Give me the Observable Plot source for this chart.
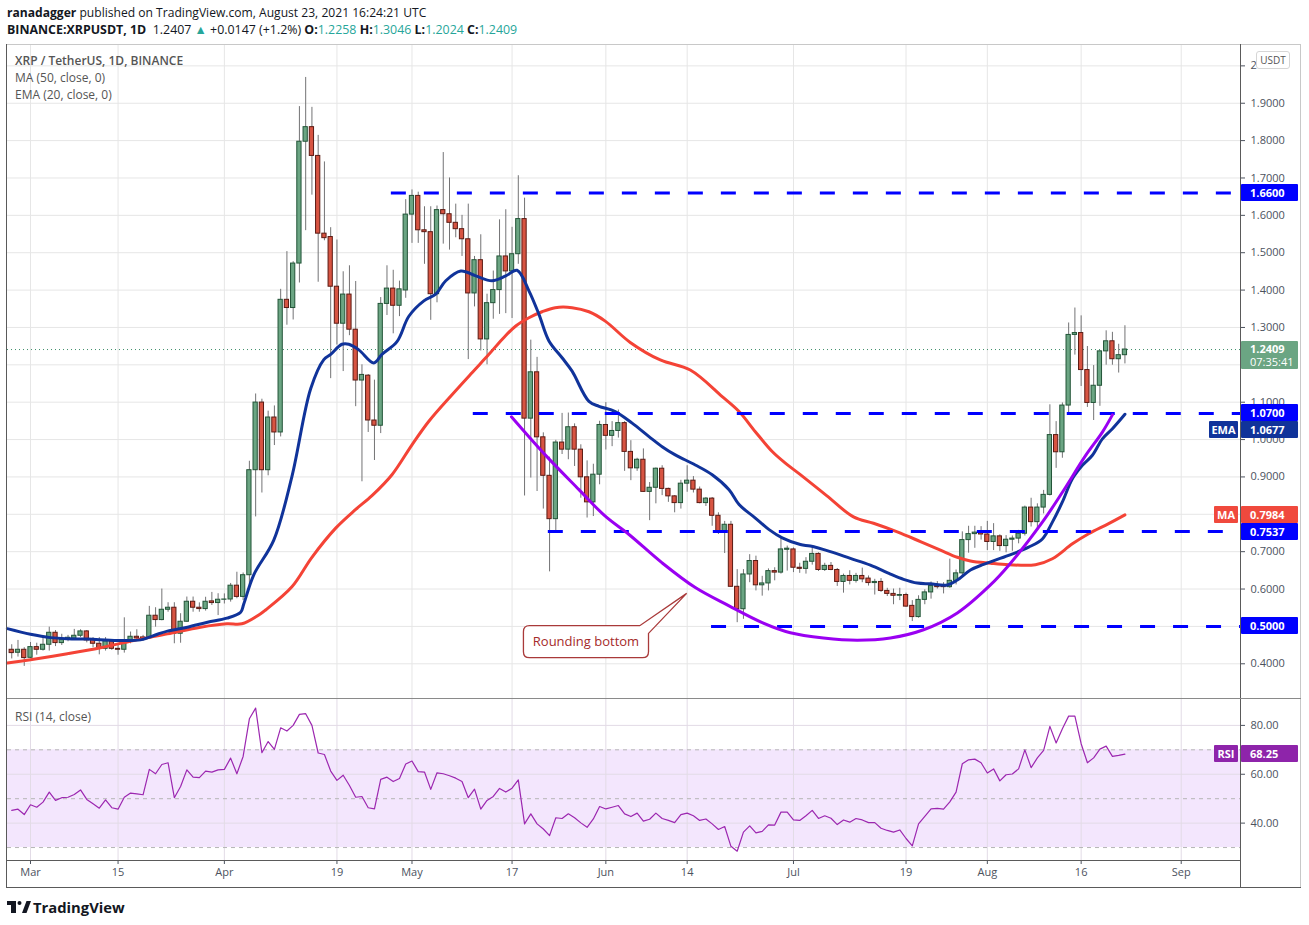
<!DOCTYPE html>
<html><head><meta charset="utf-8">
<script src="https://cdn.jsdelivr.net/npm/d3@7"></script>
<script src="https://cdn.jsdelivr.net/npm/@observablehq/plot@0.6"></script>
<style>
html,body{margin:0;padding:0;background:#fff;}
#root{position:relative;width:1309px;height:925px;overflow:hidden;font-family:"Open Sans",Roboto,sans-serif;color:#131722;}
.abs{position:absolute;white-space:nowrap;}
.teal{color:#26a69a;}
.leg{position:absolute;left:15px;font-size:12px;color:#555;white-space:nowrap;}
.lbl{position:absolute;left:1241px;width:57px;height:17px;line-height:17px;color:#fff;font-weight:700;font-size:11px;padding-left:9px;box-sizing:border-box;border-radius:1px;}
.tag{position:absolute;height:17px;line-height:17px;color:#fff;font-weight:700;font-size:11px;text-align:center;box-sizing:border-box;border-radius:1px;}
.line{position:absolute;background:#5a5a5a;}
</style></head>
<body><div id="root"></div>
<script>
// ---------- data ----------
const firstDay = "2021-02-26";
const open = [.4375,.4295,.4375,
.416,.4446,.4375,.4509,.483,.4554,.4643,.467,.475,.4866,.4643,.4536,.440,.460,.440,.4375,.4616,.4723,.4705,.4679,.5286,.517,.5446,.550,.4804,.5125,.566,.550,.5464,.567,.5625,
.5714,.572,.609,.579,.637,.918,1.099,.918,1.059,1.019,1.374,1.352,1.471,1.797,1.836,1.759,1.551,1.542,1.409,1.310,1.388,1.294,1.158,1.171,1.051,1.037,1.363,1.404,1.358,1.399,
1.602,1.652,1.560,1.555,1.389,1.614,1.603,1.58,1.563,1.536,1.391,1.48,1.268,1.365,1.40,1.49,1.45,1.496,1.59,1.056,1.18,1.006,.903,.787,.992,.973,1.033,.973,.899,.832,.906,
1.039,1.01,1.023,1.044,.967,.923,.946,.86,.871,.922,.868,.848,.83,.882,.89,.866,.83,.842,.796,.755,.772,.606,.546,.639,.675,.61,.615,.648,.644,.705,
.706,.657,.654,.673,.694,.651,.662,.651,.619,.635,.622,.635,.628,.616,.619,.595,.587,.582,.584,.555,.525,.571,.591,.608,.608,.605,.622,.642,.731,.747,.752,
.746,.726,.741,.715,.732,.735,.748,.818,.779,.818,.852,1.012,.966,1.091,1.28,1.285,1.186,1.098,1.144,1.236,1.263,1.215,1.2258];
const high = [.451,.4625,.443,
.457,.455,.470,.498,.489,.479,.476,.492,.491,.489,.470,.470,.470,.464,.449,.523,.485,.491,.476,.5536,.550,.600,.5634,.5634,.534,.5786,.5786,.563,.578,.591,.5875,
.587,.615,.645,.643,.942,1.122,1.108,1.076,1.09,1.402,1.503,1.476,1.891,1.969,1.889,1.814,1.743,1.567,1.534,1.449,1.465,1.423,1.20,1.174,1.159,1.38,1.465,1.453,1.424,1.642,
1.668,1.662,1.623,1.623,1.625,1.768,1.70,1.63,1.60,1.63,1.49,1.548,1.389,1.451,1.588,1.615,1.568,1.706,1.646,1.266,1.22,1.018,.953,.998,1.07,1.071,1.042,.986,.943,.934,1.049,
1.099,1.048,1.079,1.048,.997,.95,.975,.885,.924,.93,.87,.85,.891,.93,.901,.873,.845,.845,.804,.781,.781,.652,.652,.692,.688,.634,.654,.657,.737,.715,
.71,.669,.684,.709,.697,.669,.671,.655,.64,.649,.642,.656,.635,.626,.628,.602,.60,.602,.589,.569,.582,.598,.619,.62,.617,.68,.651,.753,.768,.768,.767,
.781,.775,.745,.743,.742,.757,.822,.843,.828,.864,1.093,1.048,1.098,1.312,1.352,1.331,1.249,1.198,1.238,1.291,1.287,1.255,1.3046];
const low = [.413,.418,.393,
.414,.423,.434,.434,.446,.449,.459,.4625,.470,.456,.443,.424,.434,.436,.423,.4286,.4536,.464,.460,.466,.498,.515,.538,.4536,.455,.511,.538,.538,.541,.556,.529,
.560,.565,.574,.569,.606,.793,.857,.903,.984,1.007,1.306,1.32,1.419,1.559,1.654,1.421,1.532,1.163,1.253,1.182,1.278,1.088,.887,1.019,.944,1.016,1.332,1.283,1.329,1.378,
1.525,1.525,1.469,1.319,1.366,1.523,1.507,1.54,1.49,1.214,1.355,1.237,1.20,1.322,1.335,1.337,1.324,1.469,.849,.897,.861,.814,.646,.752,.96,.946,.928,.843,.79,.794,.879,
.972,.981,1.004,.915,.89,.915,.859,.783,.828,.85,.832,.804,.814,.859,.857,.828,.821,.768,.746,.695,.604,.51,.519,.617,.595,.581,.595,.622,.64,.648,
.644,.642,.64,.664,.647,.647,.649,.607,.589,.611,.616,.617,.608,.584,.591,.58,.558,.569,.551,.513,.522,.558,.573,.60,.587,.602,.611,.633,.696,.709,.731,
.703,.703,.701,.697,.701,.721,.742,.766,.761,.801,.849,.923,.95,1.071,1.226,1.142,1.086,1.051,1.089,1.199,1.199,1.178,1.2024];
const close = [.4286,.4375,.4152,
.4446,.4375,.4509,.483,.4554,.4643,.4696,.475,.4866,.4625,.4536,.440,.460,.440,.4375,.4616,.4723,.4679,.4643,.5286,.517,.5446,.550,.4804,.5125,.566,.550,.5464,.566,.5625,.5714,
.572,.609,.579,.637,.918,1.099,.918,1.059,1.019,1.374,1.352,1.471,1.797,1.836,1.759,1.551,1.539,1.409,1.310,1.388,1.294,1.158,1.173,1.051,1.037,1.363,1.404,1.358,1.402,1.602,
1.652,1.560,1.555,1.389,1.614,1.603,1.58,1.563,1.536,1.391,1.48,1.268,1.365,1.40,1.49,1.45,1.496,1.59,1.056,1.18,1.006,.903,.787,.992,.973,1.033,.973,.899,.832,.906,1.039,
1.01,1.023,1.044,.967,.923,.946,.86,.871,.922,.868,.848,.83,.882,.89,.866,.83,.842,.796,.755,.772,.606,.546,.639,.675,.61,.615,.648,.644,.706,.708,
.657,.654,.673,.694,.651,.662,.651,.619,.635,.622,.635,.626,.616,.619,.595,.587,.582,.584,.553,.525,.571,.591,.608,.605,.605,.622,.642,.731,.747,.751,.746,
.726,.741,.715,.732,.735,.748,.818,.779,.818,.852,1.012,.966,1.091,1.28,1.285,1.186,1.098,1.144,1.236,1.263,1.215,1.2258,1.2409];
const rsi = [45.2,45.7,43.5,
47.5,46.5,48.6,52.7,49.3,50.4,50.6,51.7,53.6,49.7,47.9,46.1,49.5,46.3,45.7,50.6,52.3,52.0,51.6,62.0,60.2,64.0,64.7,50.4,55.0,61.8,58.8,58.6,61.3,60.9,61.8,
62.0,66.6,60.2,67.3,82.7,87.1,68.8,73.4,70.2,79.0,77.7,80.0,84.5,84.8,80.0,68.7,68.1,61.3,57.5,59.6,55.4,50.6,50.9,46.3,45.8,57.9,58.8,57.0,58.3,64.2,
65.4,61.1,60.9,53.8,60.6,60.2,59.4,58.4,57.0,50.4,53.9,45.7,49.3,50.9,54.2,52.7,54.3,57.7,39.7,43.8,39.7,37.6,34.9,42.2,41.9,43.8,42.2,40.1,38.3,41.7,46.8,
45.8,46.5,47.2,43.8,42.7,44.1,40.8,41.6,44.1,41.9,41.1,40.2,43.5,44.1,43.0,41.1,41.7,39.7,37.4,38.6,30.5,28.5,36.3,38.9,36.0,36.6,39.3,39.2,44.5,44.5,
41.3,41.1,43.0,45.2,41.9,43.0,42.0,39.4,41.3,40.4,41.9,41.3,40.2,40.2,37.9,37.0,36.3,37.2,33.7,30.7,39.7,42.8,45.8,46.0,45.7,48.7,52.7,64.3,65.9,66.2,64.7,
60.5,62.2,57.3,59.8,60.1,62.2,70.0,62.7,66.7,69.8,79.6,72.8,78.6,83.8,83.8,72.5,64.7,66.7,70.3,71.5,67.3,67.7,68.25];

// indicator lines: day offsets from Mar 1 and values
const emaDay = [-3.7,0,3.2,5.9,9.1,13.9,17.6,20.3,21.9,25.1,28.3,31.4,33.6,34.1,35.7,38.9,41.8,44.8,46.9,48,49.8,50.9,52.5,54.9,56.2,58.6,60.5,62.9,64.8,66.4,68.8,71.2,73.8,76,77.8,79.7,81.3,82.9,85,86.6,89.3,90.9,93.5,96.2,98.9,101,103.1,106.3,109,111.7,113.3,115.9,118.1,120.2,123.1,124.7,127.9,131.1,134.3,137.5,139.6,141.8,143.9,146.6,148.2,150.3,152.4,156.4,159.6,161.8,163.4,165,166.6,168.2,169.8,171.4,173,175];
const emaVal = [.494,.479,.470,.467,.466,.4625,.464,.479,.4875,.498,.511,.522,.538,.56,.638,.731,.901,1.136,1.214,1.228,1.255,1.255,1.24,1.205,1.228,1.262,1.33,1.371,1.389,1.425,1.451,1.438,1.425,1.438,1.453,1.398,1.335,1.264,1.219,1.183,1.102,1.089,1.075,1.044,1.008,.981,.959,.932,.906,.866,.826,.79,.759,.737,.719,.715,.70,.682,.664,.64,.626,.616,.614,.611,.624,.651,.666,.69,.712,.734,.779,.833,.895,.931,.958,1.002,1.029,1.0677];
const maDay = [-3.7,0,5.9,11.2,16.5,21.9,27.2,31.4,33.8,36.8,37.6,41.8,45,48.8,52,54.6,57.8,61,63.7,67.4,70.6,73.3,75.4,77.6,79.7,81.8,83.9,86.6,89.3,91.9,95.9,100.7,105.5,110.6,113.3,115.9,118.6,120.7,123.1,127.3,131.6,134.8,138.6,142.3,145.5,148.2,150.3,153.5,156.4,160.7,163.4,166.6,169.2,172.4,175];
const maVal = [.402,.411,.427,.443,.4625,.48,.498,.507,.507,.534,.544,.606,.685,.763,.813,.85,.906,.986,1.049,1.12,1.179,1.228,1.268,1.304,1.326,1.342,1.353,1.353,1.342,1.317,1.26,1.213,1.186,1.115,1.075,1.021,.968,.937,.906,.85,.793,.776,.753,.727,.704,.685,.675,.669,.665,.665,.681,.721,.748,.775,.7984];
const arcDay = [76.9,82.3,87.7,91.9,95.7,101,106.3,111.7,117,121.5,126.8,132.2,137.5,142.8,148.2,153.5,156.4,161.8,165,168.7,171.4,173];
const arcVal = [1.061,.959,.866,.795,.746,.67,.604,.555,.51,.483,.469,.463,.469,.491,.536,.611,.663,.779,.859,.957,1.02,1.066];

// horizontal levels drawn on the chart
const levelValues = [1.66, 1.07, 0.7537, 0.5];
const levelStartDay = [57.7, 70.8, 82.8, 108.9];

// axis ticks
const tickDates = ["2021-03-01","2021-03-15","2021-04-01","2021-04-19","2021-05-01","2021-05-17","2021-06-01","2021-06-14","2021-07-01","2021-07-19","2021-08-01","2021-08-16","2021-09-01"];
const tickLabels = ["Mar","15","Apr","19","May","17","Jun","14","Jul","19","Aug","16","Sep"];
const priceTicks = [0.4,0.5,0.6,0.7,0.8,0.9,1.0,1.1,1.2,1.3,1.4,1.5,1.6,1.7,1.8,1.9,2.0];
const hiddenPriceTicks = [1.2]; // covered by the last-price label in the reference
const rsiTicks = [40,60,80];
const rsiDashed = [30,50,70];

// right-axis value labels
const axisLabelValues = [1.66, 1.07, 0.7537, 0.5];
const emaLast = 1.0677, maLast = 0.7984, lastPrice = 1.2409, lastRsi = 68.25;

// callout annotation (data coords: day offset from Mar 1, price)
const callout = {text:"Rounding bottom", day1:78.9, day2:98.9, top:0.5006, bottom:0.415, tipDay:105.0, tipPrice:0.587, baseDay:97.5, sidePrice:0.48};

// ---------- build ----------
const DAY = 864e5;
const MAR1 = Date.UTC(2021,2,1);
const dayDate = d => new Date(MAR1 + d*DAY);
const start = Date.parse(firstDay);
const candles = open.map((o,i)=>({date:new Date(start+i*DAY), open:o, high:high[i], low:low[i], close:close[i], rsi:rsi[i]}));
const up = candles.filter(c=>c.close>=c.open), down = candles.filter(c=>c.close<c.open);
const ema = emaDay.map((d,i)=>({date:dayDate(d), v:emaVal[i]}));
const ma = maDay.map((d,i)=>({date:dayDate(d), v:maVal[i]}));
const arc = arcDay.map((d,i)=>({date:dayDate(d), v:arcVal[i]}));
const levels = levelValues.map((v,i)=>({v, s:dayDate(levelStartDay[i])}));
const ticks = tickDates.map(s=>new Date(s));
const labelMap = new Map(ticks.map((t,i)=>[+t, tickLabels[i]]));

const W = 1309, ML = 7, MR = 69;
const xDomain = [dayDate(-3.678), dayDate(193.48)];
const yDomain = [0.3071, 2.0545];
const rDomain = [24.7, 90.6];
const half = 0.34*DAY;
const root = document.getElementById("root");
const style = {fontFamily:'"Open Sans", sans-serif', fontSize:"11px", color:"#4c525e", background:"transparent", overflow:"visible"};
const priceFmt = d => hiddenPriceTicks.some(h=>Math.abs(h-d)<1e-9) ? "" : (d===2 ? "2" : d.toFixed(4));

const main = Plot.plot({
  width: W, height: 653, marginLeft: ML, marginRight: MR, marginTop: 0, marginBottom: 0,
  style,
  x: {type:"utc", domain: xDomain, axis: null},
  y: {domain: yDomain, axis: "right", ticks: priceTicks, tickFormat: priceFmt, tickSize: 4, tickPadding: 6, label: null},
  marks: [
    Plot.ruleY(priceTicks, {stroke:"#e6e6e6"}),
    Plot.ruleX(ticks, {stroke:"#e6e6e6"}),
    Plot.ruleY([lastPrice], {stroke:"#3f8f6b", strokeDasharray:"1,3", strokeWidth:1}),
    Plot.ruleX(candles, {x:"date", y1:"low", y2:"high", stroke:"#737375", strokeWidth:1}),
    Plot.rect(up, {x1:d=>new Date(+d.date-half), x2:d=>new Date(+d.date+half), y1:"open", y2:"close", fill:"#6ba583", stroke:"#225437", strokeWidth:1}),
    Plot.rect(down, {x1:d=>new Date(+d.date-half), x2:d=>new Date(+d.date+half), y1:"open", y2:"close", fill:"#d75442", stroke:"#5b1a13", strokeWidth:1}),
    Plot.line(ma, {x:"date", y:"v", stroke:"#f44336", strokeWidth:3, curve:"catmull-rom"}),
    Plot.line(ema, {x:"date", y:"v", stroke:"#10339a", strokeWidth:3, curve:"catmull-rom"}),
    Plot.ruleY(levels, {y:"v", x1:"s", x2:()=>xDomain[1], stroke:"#0000ff", strokeWidth:3, strokeDasharray:"15,18"}),
    Plot.line(arc, {x:"date", y:"v", stroke:"#9a00f2", strokeWidth:3, curve:"catmull-rom"})
  ]
});
const mainWrap = document.createElement("div");
mainWrap.className = "abs"; mainWrap.style.left = "0px"; mainWrap.style.top = "45px";
mainWrap.appendChild(main); root.appendChild(mainWrap);

// callout drawn with scales matching the plot
const xs = d3.scaleUtc().domain(xDomain).range([ML, W-MR]);
const ys = d3.scaleLinear().domain(yDomain).range([653, 0]);
{
  const x1 = xs(dayDate(callout.day1)), x2 = xs(dayDate(callout.day2));
  const yT = ys(callout.top), yB = ys(callout.bottom);
  const tx = xs(dayDate(callout.tipDay)), ty = ys(callout.tipPrice);
  const bx = xs(dayDate(callout.baseDay)), sy = ys(callout.sidePrice);
  const r = 6;
  const p = `M${x1+r},${yT} L${bx},${yT} L${tx},${ty} L${x2},${sy} L${x2},${yB-r} Q${x2},${yB} ${x2-r},${yB} L${x1+r},${yB} Q${x1},${yB} ${x1},${yB-r} L${x1},${yT+r} Q${x1},${yT} ${x1+r},${yT} Z`;
  const g = d3.select(main).append("g");
  g.append("path").attr("d", p).attr("fill","#fff").attr("stroke","#a93a3a").attr("stroke-width",1.3);
  g.append("text").attr("x",(x1+x2)/2).attr("y",(yT+yB)/2).attr("dy","0.35em").attr("text-anchor","middle")
    .attr("fill","#a52a2a").style("font-size","13px").style("font-family",'"Open Sans", sans-serif').text(callout.text);
}

const rsiPlot = Plot.plot({
  width: W, height: 188, marginLeft: ML, marginRight: MR, marginTop: 0, marginBottom: 27,
  style,
  x: {type:"utc", domain: xDomain, ticks: ticks, tickFormat: d => labelMap.get(+d) ?? "", tickSize: 4, tickPadding: 4, label: null},
  y: {domain: rDomain, axis: "right", ticks: rsiTicks, tickFormat: d => d.toFixed(2), tickSize: 4, tickPadding: 6, label: null},
  marks: [
    Plot.rect([{a:30,b:70}], {x1:()=>xDomain[0], x2:()=>xDomain[1], y1:"a", y2:"b", fill:"#f3e6fd"}),
    Plot.ruleY(rsiTicks, {stroke:"#e2dbe6"}),
    Plot.ruleX(ticks, {stroke:"#e2dbe6"}),
    Plot.ruleY(rsiDashed, {stroke:"#b5b5b5", strokeDasharray:"4,4"}),
    Plot.line(candles, {x:"date", y:"rsi", stroke:"#9c27b0", strokeWidth:1.2})
  ]
});
const rsiWrap = document.createElement("div");
rsiWrap.className = "abs"; rsiWrap.style.left = "0px"; rsiWrap.style.top = "699px";
rsiWrap.appendChild(rsiPlot); root.appendChild(rsiWrap);

// frame lines
function line(l,t,w,h,c){const d=document.createElement("div");d.className="line";d.style.left=l+"px";d.style.top=t+"px";d.style.width=w+"px";d.style.height=h+"px";if(c)d.style.background=c;root.appendChild(d);}
line(7,44,1294,1,"#c8c8c8");
line(6,44,1,844);
line(1300,44,1,844,"#c8c8c8");
line(6,887,1295,1);
line(1240,44,1,844);
line(7,698,1294,1,"#8a8a8a");
line(7,860,1233,1);

// header
const h1 = document.createElement("div");
h1.className="abs"; h1.style.left="7px"; h1.style.top="4px"; h1.style.fontSize="12.1px";
h1.innerHTML = '<b>ranadagger</b> published on TradingView.com, August 23, 2021 16:24:21 UTC';
root.appendChild(h1);
const h2 = document.createElement("div");
h2.className="abs"; h2.style.left="7px"; h2.style.top="21px"; h2.style.fontSize="12.4px";
h2.innerHTML = '<b>BINANCE:XRPUSDT, 1D</b>&nbsp; 1.2407 <span class="teal">▲</span> +0.0147 (+1.2%) <b>O:</b><span class="teal">1.2258</span> <b>H:</b><span class="teal">1.3046</span> <b>L:</b><span class="teal">1.2024</span> <b>C:</b><span class="teal">1.2409</span>';
root.appendChild(h2);

// legends
function leg(t, top, bold){const d=document.createElement("div");d.className="leg";d.style.top=top+"px";d.textContent=t;if(bold)d.style.fontWeight="600";root.appendChild(d);}
leg("XRP / TetherUS, 1D, BINANCE", 52, true);
leg("MA (50, close, 0)", 69);
leg("EMA (20, close, 0)", 86);
leg("RSI (14, close)", 708);

// right-axis labels
const yAbs = v => 45 + ys(v);
const rs = d3.scaleLinear().domain(rDomain).range([161, 0]);
function lbl(text, yc, bg, h){const d=document.createElement("div");d.className="lbl";d.style.background=bg;d.style.top=(yc-(h||17)/2)+"px";if(h){d.style.height=h+"px";d.style.lineHeight="13px";d.style.paddingTop="1px";}d.innerHTML=text;root.appendChild(d);}
function tag(text, yc, bg, left, w){const d=document.createElement("div");d.className="tag";d.style.background=bg;d.style.left=left+"px";d.style.width=w+"px";d.style.top=(yc-8.5)+"px";d.textContent=text;root.appendChild(d);}
axisLabelValues.forEach(v=>lbl(v.toFixed(4), yAbs(v), "#0000ff"));
lbl(lastPrice.toFixed(4)+'<br><span style="font-weight:400">07:35:41</span>', yAbs(lastPrice)+6, "#6ba583", 28);
lbl(emaLast.toFixed(4), yAbs(emaLast)+16, "#10339a");
tag("EMA", yAbs(emaLast)+16, "#10339a", 1209, 29);
lbl(maLast.toFixed(4), yAbs(maLast), "#f0493d");
tag("MA", yAbs(maLast), "#f0493d", 1214, 24);
lbl(lastRsi.toFixed(2), 699+rs(lastRsi), "#8e24aa");
tag("RSI", 699+rs(lastRsi), "#8e24aa", 1214, 24);

// USDT box
const u = document.createElement("div");
u.className="abs"; Object.assign(u.style,{left:"1256px",top:"51px",width:"32px",height:"16px",border:"1px solid #d6d6d6",borderRadius:"3px",background:"#fff",fontSize:"10px",color:"#555",textAlign:"center",lineHeight:"16px"});
u.textContent="USDT"; root.appendChild(u);

// footer logo
const f = document.createElement("div");
f.className="abs"; f.style.left="7px"; f.style.top="894px";
f.innerHTML = '<svg width="24" height="16" style="vertical-align:middle"><rect x="0" y="2" width="9" height="4" fill="#131722"/><rect x="4" y="2" width="5" height="12" fill="#131722"/><circle cx="12.5" cy="4" r="2" fill="#131722"/><polygon points="15,14 19.5,2 24,2 19.5,14" fill="#131722"/></svg><span style="font-weight:700;font-size:14.8px;margin-left:2px;vertical-align:middle;color:#131722">TradingView</span>';
root.appendChild(f);
</script>
</body></html>
